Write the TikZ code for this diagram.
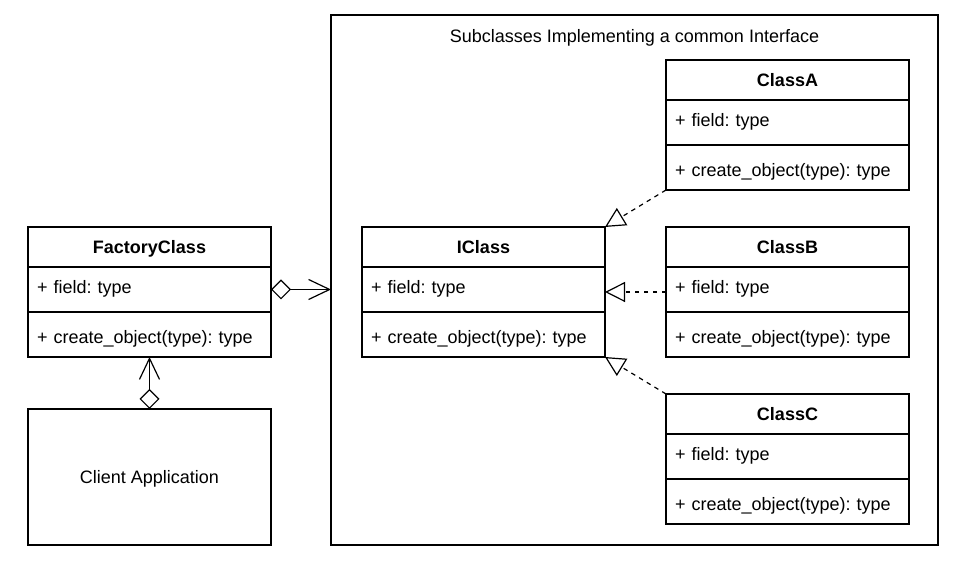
\documentclass[tikz,border=0pt]{standalone}
\usepackage{fontspec}
\setmainfont{Liberation Sans}
\usepackage{xcolor}
\usepackage{tikz}
\usetikzlibrary{positioning,arrows.meta,calc}
\frenchspacing

\begin{document}
\begin{tikzpicture}[
    x=1pt, y=1pt,
    node distance=0pt,
    font=\fontsize{18pt}{22pt}\selectfont,
    classhead/.style={rectangle, draw, line width=1.8pt, fill=white, minimum width=243pt, minimum height=40pt, inner sep=0pt, outer sep=0pt, font=\fontsize{18pt}{22pt}\selectfont\bfseries, text height=13pt, text depth=0pt},
    fieldrow/.style={rectangle, draw, line width=1.8pt, fill=white, text width=225pt, inner xsep=9pt, inner ysep=0pt, outer sep=0pt, minimum height=45pt, align=left, text height=13pt, text depth=5.4pt},
    methodrow/.style={fieldrow, text height=23pt, text depth=4pt},
    box/.style={rectangle, draw, line width=1.8pt, fill=white, minimum width=243pt, minimum height=136pt, inner sep=0pt, outer sep=0pt, text height=13pt, text depth=0pt},
    frame/.style={rectangle, draw, line width=1.8pt, minimum width=607pt, minimum height=530pt, inner sep=0pt, outer sep=0pt},
    aggregate/.style={{Diamond[open, length=20pt, width=20pt]}-{Straight Barb[length=21pt, width=20pt]}, line width=1.2pt},
    implements/.style={-{Triangle[open, length=20pt, width=20pt]}, dash pattern=on 4.5pt off 4.5pt, line width=1.2pt}
]

\useasboundingbox[fill=white] (0,0) rectangle (966,569);

% Container
\node[frame] (container) at (634.5,289) {};
\node[below=14.3pt of container.north, inner sep=0pt, text height=13pt, text depth=0pt] (title) {Subclasses Implementing a common Interface};

% FactoryClass
\node[classhead] (factory) at (149.5,322) {FactoryClass};
\node[fieldrow, below=of factory] (factoryfield) {+ field: type};
\node[methodrow, below=of factoryfield] (factorymethod) {+ create\_object(type): type};

% Client
\node[box, below=52pt of factorymethod] (client) {Client Application};

% IClass
\node[classhead, right=91pt of factory] (iclass) {IClass};
\node[fieldrow, below=of iclass] (iclassfield) {+ field: type};
\node[methodrow, below=of iclassfield] (iclassmethod) {+ create\_object(type): type};
\coordinate (iclassmid) at ($(iclass.north east)!0.5!(iclassmethod.south east)$);

% ClassB
\node[classhead, right=61pt of iclass] (classb) {ClassB};
\node[fieldrow, below=of classb] (classbfield) {+ field: type};
\node[methodrow, below=of classbfield] (classbmethod) {+ create\_object(type): type};

% ClassA
\node[classhead, above=127pt of classb] (classa) {ClassA};
\node[fieldrow, below=of classa] (classafield) {+ field: type};
\node[methodrow, below=of classafield] (classamethod) {+ create\_object(type): type};

% ClassC
\node[classhead, below=37pt of classbmethod] (classc) {ClassC};
\node[fieldrow, below=of classc] (classcfield) {+ field: type};
\node[methodrow, below=of classcfield] (classcmethod) {+ create\_object(type): type};

% Arrows
\draw[aggregate] (factoryfield.east) -- (factoryfield.east -| container.west);
\draw[aggregate] (client.north) -- (factorymethod.south);
\draw[implements] (classamethod.south west) -- (iclass.north east);
\draw[implements] (classbfield.west |- iclassmid) -- (iclassmid);
\draw[implements] (classc.north west) -- (iclassmethod.south east);

\end{tikzpicture}
\end{document}
